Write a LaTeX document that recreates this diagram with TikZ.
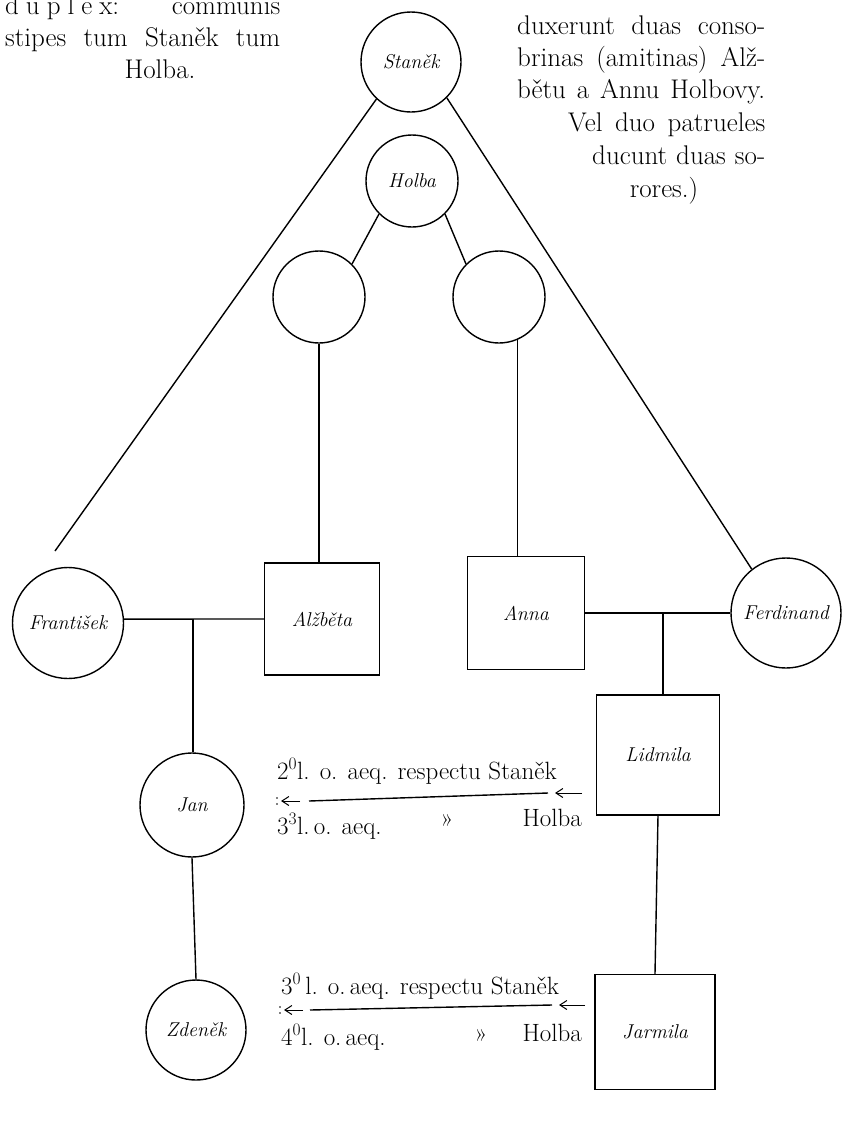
\documentclass[tikz,border=0pt]{standalone}
\usepackage{fontspec}
\usetikzlibrary{arrows.meta}
\tikzset{
  kin/.style={circle,draw,line width=1.4pt,inner sep=0pt,
    font=\fontsize{20}{20}\selectfont\itshape\addfontfeatures{LetterSpace=9}},
  sqkin/.style={rectangle,draw,line width=1.4pt,inner sep=0pt,
    font=\fontsize{20}{20}\selectfont\itshape\addfontfeatures{LetterSpace=9}},
  link/.style={line width=1.4pt},
  body/.style={inner sep=0pt,anchor=base west,font=\fontsize{27}{27}\selectfont},
  degree/.style={inner sep=0pt,anchor=base west,font=\fontsize{25}{25}\selectfont},
  tip/.style={line width=1pt,-{Straight Barb[length=7pt,width=9pt,line width=1pt]}},
}
\begin{document}
\begin{tikzpicture}[x=1pt,y=-1pt]
\useasboundingbox (0,0) rectangle (856,1122);

% text of the page around the figure
\node[body] (tl1) at (5,14) {\makebox[275pt][s]{d\hspace{7pt}u\hspace{7pt}p\hspace{7pt}l\hspace{7pt}e\hspace{7pt}x:\hfill communis}};
\node[body] (tl2) at (5,46) {\makebox[275pt][s]{stipes tum Staněk tum}};
\node[body,anchor=base] (tl3) at (160,78) {Holba.};

\node[body] (tr1) at (517,34) {\makebox[248pt][s]{duxerunt duas conso-}};
\node[body] (tr2) at (517,66) {\makebox[248pt][s]{brinas (amitinas) Alž-}};
\node[body] (tr3) at (517,98) {\makebox[248pt][s]{bětu a Annu Holbovy.}};
\node[body] (tr4) at (568,131) {\makebox[197pt][s]{Vel duo patrueles}};
\node[body] (tr5) at (592,164) {\makebox[173pt][s]{ducunt duas so-}};
\node[body,anchor=base] (tr6) at (664,197) {rores.)};

% persons
\node[kin,minimum size=100pt] (stanek) at (411,62) {Staněk};
\node[kin,minimum size=92pt] (holba) at (412,181) {Holba};
\node[kin,minimum size=92pt] (dl) at (319,297) {};
\node[kin,minimum size=92pt] (dr) at (499,297) {};
\node[kin,minimum size=111pt] (frant) at (68,623) {František};
\node[sqkin,minimum width=115pt,minimum height=112pt] (alz) at (322,619) {Alžběta};
\node[sqkin,minimum width=117pt,minimum height=113pt] (anna) at (526,613) {Anna};
\node[kin,minimum size=110pt] (ferd) at (786,613) {Ferdinand};
\node[kin,minimum size=104pt] (jan) at (192,805) {Jan};
\node[sqkin,minimum width=123pt,minimum height=120pt] (lidm) at (658,755) {Lidmila};
\node[kin,minimum size=100pt] (zden) at (196,1030) {Zdeněk};
\node[sqkin,minimum width=120pt,minimum height=115pt] (jarm) at (655,1032) {Jarmila};

% descent lines
\coordinate (fend) at (55,551);
\draw[link] (stanek.-133) -- (fend);
\draw[link] (stanek.-45) -- (ferd.128);
\draw[link] (holba.-135) -- (dl.45);
\draw[link] (holba.-45) -- (dr.135);
\draw[link] (dl.south) -- (dl.south |- alz.north);
\draw[link] (dr.-67) -- (dr.-67 |- anna.north);

% marriages and children
\draw[link] (frant.4) -- (alz.west);
\coordinate (m1) at (193,619);
\draw[link] (m1) -- (m1 |- jan.north);
\draw[link] (anna.east) -- (ferd.west);
\coordinate (m2) at (663,613);
\draw[link] (m2) -- (m2 |- lidm.north);
\draw[link] (jan.south) -- (zden.north);
\draw[link] (lidm.south) -- (jarm.north);

% degrees between Jan and Lidmila
\coordinate (a1l) at (281,801);
\coordinate (a1lt) at (300,801);
\coordinate (a1s) at (309,801);
\coordinate (a1e) at (548,793);
\coordinate (a1rt) at (582,793);
\coordinate (a1r) at (555,793);
\draw[link] (a1s) -- (a1e);
\draw[tip] (a1lt) -- (a1l);
\draw[tip] (a1rt) -- (a1r);
\fill (277,798) circle (0.9pt) (277,804) circle (0.9pt);
\node[degree] (d1a) at (277,779) {2\textsuperscript{0}l. o. aeq. respectu Staněk};
\node[degree] (d1b) at (277,834) {3\textsuperscript{3}l.\,o. aeq.};
\node[degree,anchor=base] (d1c) at (447,826) {»};
\node[degree,anchor=base east] (d1d) at (582,826) {Holba};

% degrees between Zdeněk and Jarmila
\coordinate (a2l) at (284,1010);
\coordinate (a2lt) at (303,1010);
\coordinate (a2s) at (310,1010);
\coordinate (a2e) at (552,1005);
\coordinate (a2rt) at (585,1005);
\coordinate (a2r) at (559,1005);
\draw[link] (a2s) -- (a2e);
\draw[tip] (a2lt) -- (a2l);
\draw[tip] (a2rt) -- (a2r);
\fill (280,1007) circle (0.9pt) (280,1013) circle (0.9pt);
\node[degree] (d2a) at (281,994) {3\textsuperscript{0}\,l. o.\,aeq. respectu Staněk};
\node[degree] (d2b) at (281,1045) {4\textsuperscript{0}l. o.\,aeq.};
\node[degree,anchor=base] (d2c) at (481,1041) {»};
\node[degree,anchor=base east] (d2d) at (582,1041) {Holba};
\end{tikzpicture}
\end{document}
